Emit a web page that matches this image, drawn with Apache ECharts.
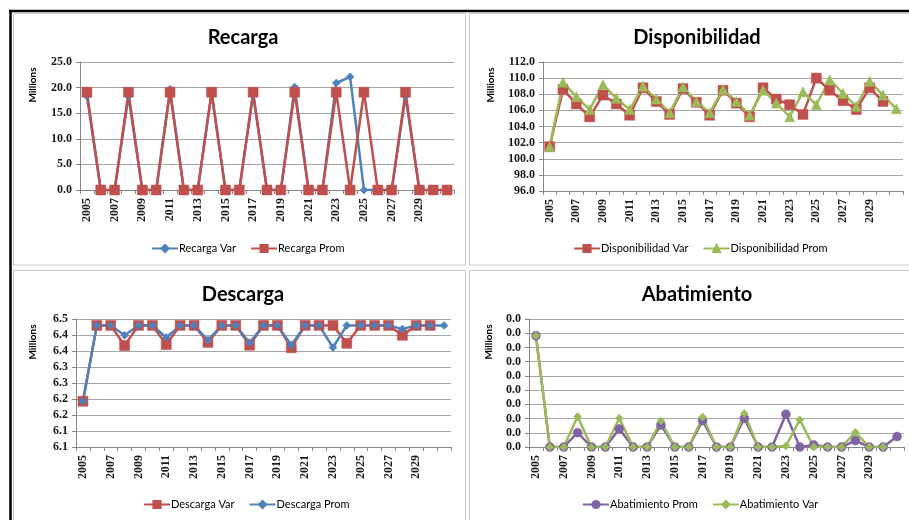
<!DOCTYPE html>
<html>
<head>
<meta charset="utf-8">
<script src="https://cdn.jsdelivr.net/npm/echarts@6/dist/echarts.min.js"></script>
<style>
  html, body { margin: 0; padding: 0; background: #fff; }
  #chart { width: 909px; height: 520px; }
</style>
</head>
<body>
<div id="chart"></div>
<script>
// Years on every category axis
const years = ['2005','2006','2007','2008','2009','2010','2011','2012','2013','2014',
  '2015','2016','2017','2018','2019','2020','2021','2022','2023','2024',
  '2025','2026','2027','2028','2029','2030','2031'];

// Recarga (millions)
const recargaVar  = [18.3,0,0,18.3,0,0,19.7,0,0,19.0,0,0,18.6,0,0,20.1,0,0,20.9,22.1,0,0,0,18.3,0,0,0];
const recargaProm = [19.1,0,0,19.1,0,0,19.1,0,0,19.1,0,0,19.1,0,0,19.1,0,0,19.1,0,19.1,0,0,19.1,0,0,0];

// Disponibilidad (millions)
const dispVar  = [101.5,108.6,106.8,105.2,107.9,106.8,105.4,108.8,107.1,105.5,108.7,107.0,105.4,108.5,106.9,105.2,
  108.8,107.4,106.7,105.5,110.0,108.5,107.2,106.1,108.8,107.1,null];
const dispProm = [101.5,109.5,107.7,106.1,109.2,107.5,106.1,109.0,107.4,105.7,108.9,107.1,105.7,108.6,107.1,105.4,
  108.5,106.9,105.2,108.3,106.7,109.8,108.1,106.5,109.6,107.9,106.2];

// Descarga (millions)
const descVar  = [6.193,6.430,6.430,6.367,6.430,6.430,6.370,6.430,6.430,6.377,6.430,6.430,6.368,6.430,6.430,6.360,
  6.430,6.430,6.430,6.374,6.430,6.430,6.430,6.399,6.430,6.430,null];
const descProm = [6.193,6.430,6.430,6.399,6.430,6.430,6.392,6.430,6.430,6.384,6.430,6.430,6.376,6.430,6.430,6.369,
  6.430,6.430,6.361,6.430,6.430,6.430,6.430,6.419,6.430,6.430,6.430];
const descTicks = ['6.1','6.1','6.2','6.2','6.3','6.3','6.4','6.4','6.5'];

// Abatimiento (millions)
const abatProm = [0.00782,0,0,0.00101,0,0,0.00127,0,0,0.00155,0,0,0.00185,0,0,0.00202,
  0,0,0.00230,0,0.00014,0,0,0.00045,0,0,0.00073];
const abatVar  = [0.00782,0,0,0.00214,0,0,0.00202,0,0,0.00183,0,0,0.00211,0,0,0.00235,
  0,0,0.00007,0.00192,0,0,0,0.00103,0,0,null];

const BLUE = '#4F81BD', RED = '#C0504D', GREEN = '#9BBB59', PURPLE = '#8064A2';
const tickFont = { fontFamily: 'Liberation Serif', fontSize: 12, fontWeight: 'bold', color: '#1a1a1a' };
const uiFont = 'Lato';

const grids = [
  { left: 80, top: 62, width: 374, height: 128 },
  { left: 543, top: 62, width: 360, height: 129 },
  { left: 76, top: 319, width: 375, height: 128 },
  { left: 529, top: 319, width: 375, height: 128 }
];

function xAxisFor(i) {
  return {
    type: 'category', gridIndex: i, data: years, boundaryGap: true,
    axisLine: { lineStyle: { color: '#868686', width: 1 } },
    axisTick: { show: true, interval: 0, length: 4, lineStyle: { color: '#868686' } },
    axisLabel: Object.assign({
      rotate: 90, margin: 8,
      interval: (idx) => idx % 2 === 0 && idx < years.length - 1
    }, tickFont),
    splitLine: { show: false }
  };
}

function yAxisFor(i, min, max, interval, fmt) {
  return {
    type: 'value', gridIndex: i, min: min, max: max, interval: interval,
    axisLine: { show: true, lineStyle: { color: '#868686' } },
    axisTick: { show: true, length: 4, lineStyle: { color: '#868686' } },
    axisLabel: Object.assign({ margin: 8, formatter: fmt }, tickFont),
    splitLine: { show: true, lineStyle: { color: '#a6a6a6', width: 1 } }
  };
}

function lineSeries(name, i, data, color, symbol, size) {
  return {
    name: name, type: 'line', xAxisIndex: i, yAxisIndex: i, data: data,
    symbol: symbol, symbolSize: size, showAllSymbol: true,
    lineStyle: { color: color, width: 2.5 },
    itemStyle: { color: color, borderColor: color, borderWidth: 0.5 },
    connectNulls: false, animation: false
  };
}

function titleFor(text, x, y) {
  return {
    text: text, left: x, top: y, textAlign: 'center',
    textStyle: { fontFamily: uiFont, fontWeight: 'bold', fontSize: 20, color: '#000' }
  };
}

function legendFor(names, x, y) {
  return {
    data: names, left: x, top: y, orient: 'horizontal',
    itemWidth: 26, itemHeight: 9, itemGap: 14,
    textStyle: { fontFamily: uiFont, fontSize: 11, color: '#000', padding: [0, 0, 0, -4] }
  };
}

function millions(x, y) {
  return {
    type: 'text', x: x, y: y, rotation: Math.PI / 2,
    style: { text: 'Millions', fontFamily: uiFont, fontWeight: 'bold', fontSize: 10,
      fill: '#000', textAlign: 'center', textVerticalAlign: 'middle' }
  };
}

const panelStroke = { fill: 'none', stroke: '#c8c8c8', lineWidth: 1 };

const option = {
  backgroundColor: '#fff',
  animation: false,
  title: [
    titleFor('Recarga', 238, 23),
    titleFor('Disponibilidad', 692, 23),
    titleFor('Descarga', 238, 280),
    titleFor('Abatimiento', 692, 280)
  ],
  legend: [
    legendFor(['Recarga Var', 'Recarga Prom'], 146, 238),
    legendFor(['Disponibilidad Var', 'Disponibilidad Prom'], 568, 238),
    legendFor(['Descarga Var', 'Descarga Prom'], 138, 494),
    legendFor(['Abatimiento Prom', 'Abatimiento Var'], 577, 494)
  ],
  grid: grids,
  xAxis: [xAxisFor(0), xAxisFor(1), xAxisFor(2), xAxisFor(3)],
  yAxis: [
    yAxisFor(0, 0, 25, 5, (v) => v.toFixed(1)),
    yAxisFor(1, 96, 112, 2, (v) => v.toFixed(1)),
    yAxisFor(2, 6.05, 6.45, 0.05, (v) => descTicks[Math.round((v - 6.05) / 0.05)]),
    yAxisFor(3, 0, 0.009, 0.001, (v) => v.toFixed(1))
  ],
  series: [
    lineSeries('Recarga Var', 0, recargaVar, BLUE, 'diamond', 8),
    lineSeries('Recarga Prom', 0, recargaProm, RED, 'rect', 10),
    lineSeries('Disponibilidad Var', 1, dispVar, RED, 'rect', 10),
    lineSeries('Disponibilidad Prom', 1, dispProm, GREEN, 'triangle', 10),
    lineSeries('Descarga Var', 2, descVar, RED, 'rect', 10),
    lineSeries('Descarga Prom', 2, descProm, BLUE, 'diamond', 8),
    lineSeries('Abatimiento Prom', 3, abatProm, PURPLE, 'circle', 9),
    lineSeries('Abatimiento Var', 3, abatVar, GREEN, 'diamond', 8)
  ],
  graphic: [
    { type: 'rect', shape: { x: 13.5, y: 13.5, width: 452, height: 251.5 }, style: panelStroke, silent: true },
    { type: 'rect', shape: { x: 469.5, y: 13.5, width: 445, height: 251.5 }, style: panelStroke, silent: true },
    { type: 'rect', shape: { x: 13.5, y: 270.5, width: 452, height: 255 }, style: panelStroke, silent: true },
    { type: 'rect', shape: { x: 469.5, y: 270.5, width: 445, height: 255 }, style: panelStroke, silent: true },
    { type: 'line', shape: { x1: 9, y1: 11, x2: 909, y2: 11 }, style: { stroke: '#000', lineWidth: 2.5 }, silent: true },
    { type: 'line', shape: { x1: 10.5, y1: 10, x2: 10.5, y2: 520 }, style: { stroke: '#000', lineWidth: 2.5 }, silent: true },
    millions(33, 85),
    millions(491, 85),
    millions(33, 342),
    millions(489, 342)
  ]
};

const chart = echarts.init(document.getElementById('chart'), null, { renderer: 'canvas' });
chart.setOption(option);
</script>
</body>
</html>
